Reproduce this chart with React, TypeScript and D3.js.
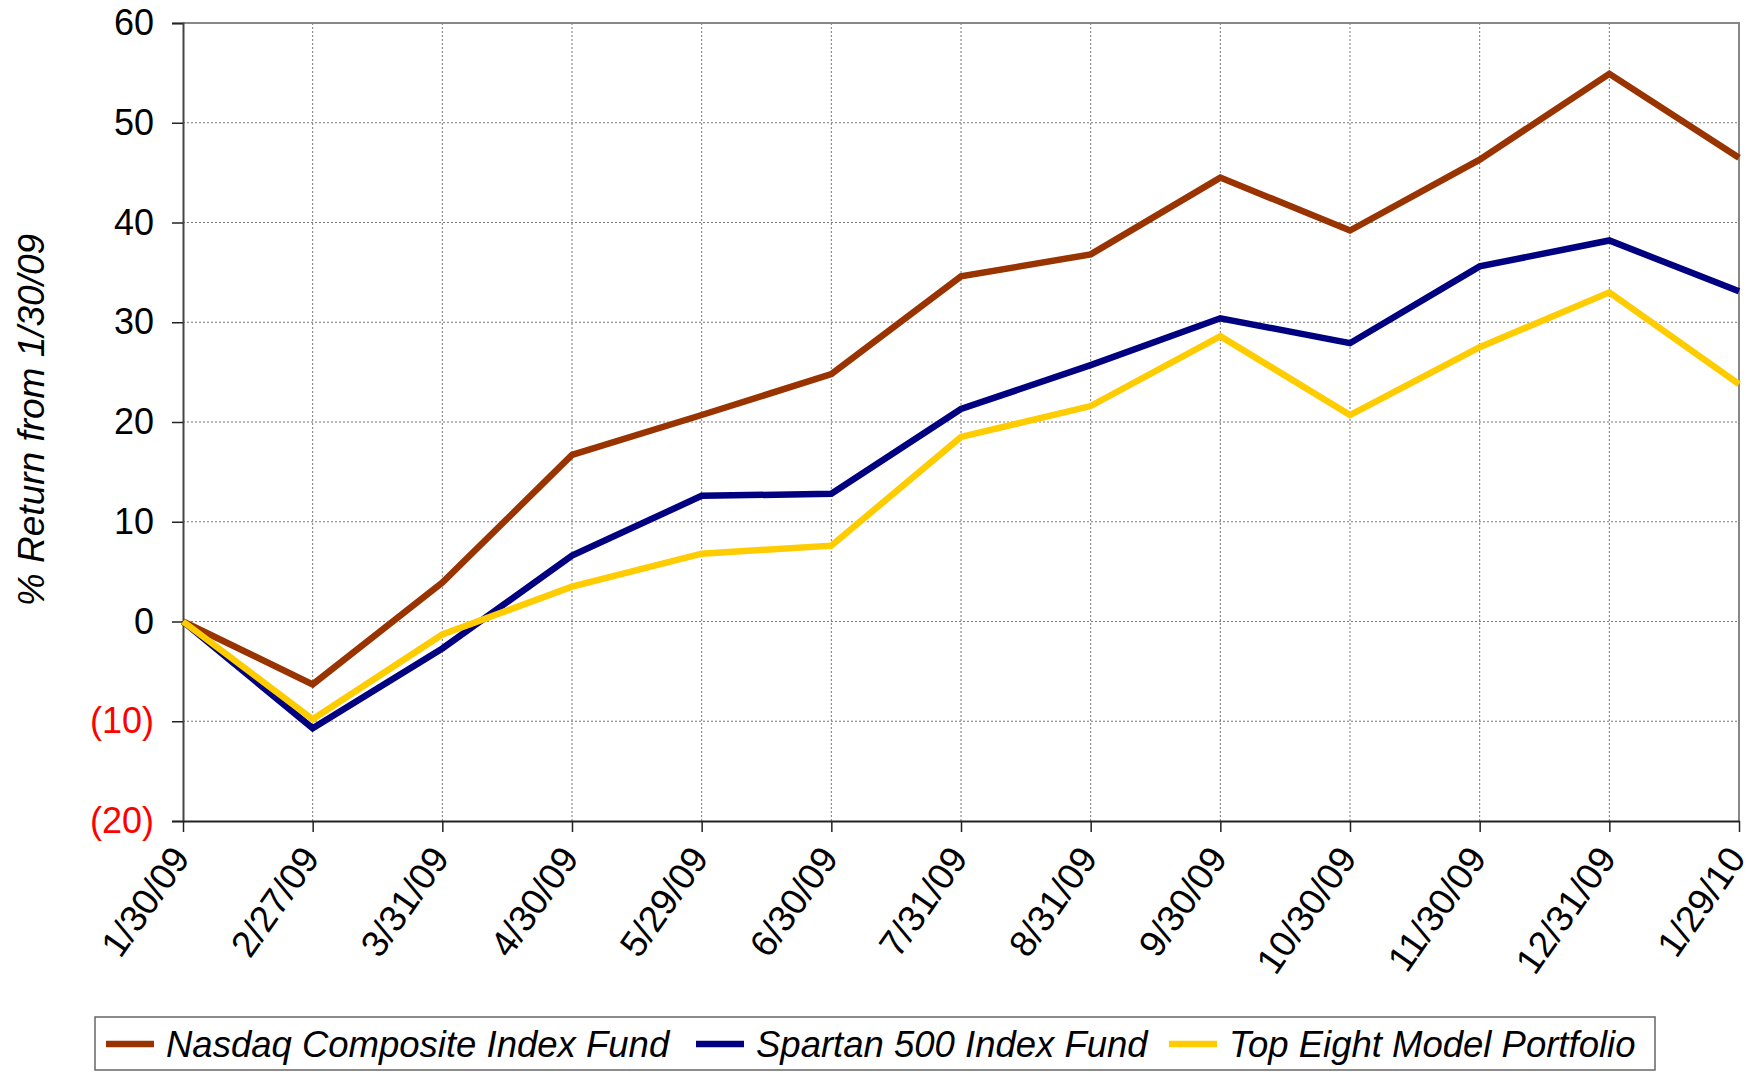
import React, { useEffect, useRef } from 'react';
import * as d3 from 'd3';

const dates = ['1/30/09', '2/27/09', '3/31/09', '4/30/09', '5/29/09', '6/30/09', '7/31/09', '8/31/09', '9/30/09', '10/30/09', '11/30/09', '12/31/09', '1/29/10'];
const nasdaq = [0, -6.3, 3.9, 16.7, 20.7, 24.8, 34.6, 36.8, 44.5, 39.2, 46.3, 54.9, 46.5];
const spartan = [0, -10.7, -2.7, 6.6, 12.6, 12.8, 21.3, 25.7, 30.4, 27.9, 35.6, 38.2, 33.1];
const topEight = [0, -9.8, -1.3, 3.5, 6.8, 7.6, 18.5, 21.6, 28.6, 20.7, 27.5, 33.0, 23.8];
const yTicks = [-20, -10, 0, 10, 20, 30, 40, 50, 60];

const series = [
  { name: 'Nasdaq Composite Index Fund', values: nasdaq, color: '#993300' },
  { name: 'Spartan 500 Index Fund', values: spartan, color: '#000080' },
  { name: 'Top Eight Model Portfolio', values: topEight, color: '#FFCC00' },
];

const fmt = (v: number) => (v < 0 ? `(${Math.abs(v)})` : `${v}`);

export default function App() {
  const ref = useRef<SVGSVGElement>(null);

  useEffect(() => {
    const w = 1754, h = 1072;
    const m = { top: 23, right: 15, bottom: 251, left: 183 };
    const svg = d3.select(ref.current).attr('width', w).attr('height', h);
    svg.selectAll('*').remove();
    const font = '"Liberation Sans", Arial, sans-serif';

    const x = d3.scalePoint<string>().domain(dates).range([m.left, w - m.right]);
    const y = d3.scaleLinear().domain([-20, 60]).range([h - m.bottom, m.top]);

    // grid
    svg.append('g').selectAll('line').data(yTicks.filter(t => t !== -20 && t !== 60)).enter().append('line')
      .attr('x1', m.left).attr('x2', w - m.right)
      .attr('y1', d => y(d)).attr('y2', d => y(d))
      .attr('stroke', '#777').attr('stroke-width', 1).attr('stroke-dasharray', '2,2');
    svg.append('g').selectAll('line').data(dates.slice(1, -1)).enter().append('line')
      .attr('x1', d => x(d)!).attr('x2', d => x(d)!)
      .attr('y1', m.top).attr('y2', h - m.bottom)
      .attr('stroke', '#777').attr('stroke-width', 1).attr('stroke-dasharray', '2,2');

    // frame (top/right)
    svg.append('path')
      .attr('d', `M${m.left},${m.top}H${w - m.right}V${h - m.bottom}`)
      .attr('fill', 'none').attr('stroke', '#888').attr('stroke-width', 2);

    // y axis
    const yAxis = svg.append('g').attr('transform', `translate(${m.left},0)`)
      .call(d3.axisLeft(y).tickValues(yTicks).tickSize(11).tickPadding(18).tickFormat(d => fmt(+d)));
    yAxis.select('.domain').attr('stroke', '#444').attr('stroke-width', 2);
    yAxis.selectAll('.tick line').attr('stroke', '#222').attr('stroke-width', 1.5);
    yAxis.selectAll('.tick text')
      .attr('font-family', font).attr('font-size', 36)
      .attr('fill', d => (+d < 0 ? '#ff0000' : '#000'));

    // x axis
    const xAxis = svg.append('g').attr('transform', `translate(0,${h - m.bottom})`)
      .call(d3.axisBottom(x).tickSize(11).tickSizeOuter(0));
    xAxis.select('.domain').attr('stroke', '#222').attr('stroke-width', 2);
    xAxis.selectAll('.tick line').attr('stroke', '#222').attr('stroke-width', 1.5);
    xAxis.selectAll('.tick text')
      .attr('font-family', font).attr('font-size', 37)
      .attr('text-anchor', 'end')
      .attr('transform', 'translate(-3,30) rotate(-55)')
      .attr('x', 0).attr('y', 0).attr('dy', '0.35em');

    // lines
    const line = d3.line<number>().x((d, i) => x(dates[i])!).y(d => y(d));
    series.forEach(s => {
      svg.append('path').datum(s.values)
        .attr('d', line)
        .attr('fill', 'none').attr('stroke', s.color).attr('stroke-width', 6.5)
        .attr('stroke-linejoin', 'miter');
    });

    // y title
    svg.append('text')
      .attr('transform', 'rotate(-90)')
      .attr('x', -420).attr('y', 44)
      .attr('text-anchor', 'middle')
      .attr('font-family', font).attr('font-style', 'italic').attr('font-size', 37)
      .text('% Return from 1/30/09');

    // legend
    const lg = svg.append('g');
    lg.append('rect').attr('x', 95).attr('y', 1017).attr('width', 1560).attr('height', 53)
      .attr('fill', '#fff').attr('stroke', '#666').attr('stroke-width', 1.5);
    const lx = [106, 696, 1169];
    series.forEach((s, i) => {
      lg.append('line').attr('x1', lx[i]).attr('x2', lx[i] + 48).attr('y1', 1044).attr('y2', 1044)
        .attr('stroke', s.color).attr('stroke-width', 6.5);
      lg.append('text').attr('x', lx[i] + 60).attr('y', 1057)
        .attr('font-family', font).attr('font-style', 'italic').attr('font-size', 36.5)
        .text(s.name);
    });
  }, []);

  return <svg ref={ref} style={{ position: 'absolute', left: 0, top: 0 }}></svg>;
}
